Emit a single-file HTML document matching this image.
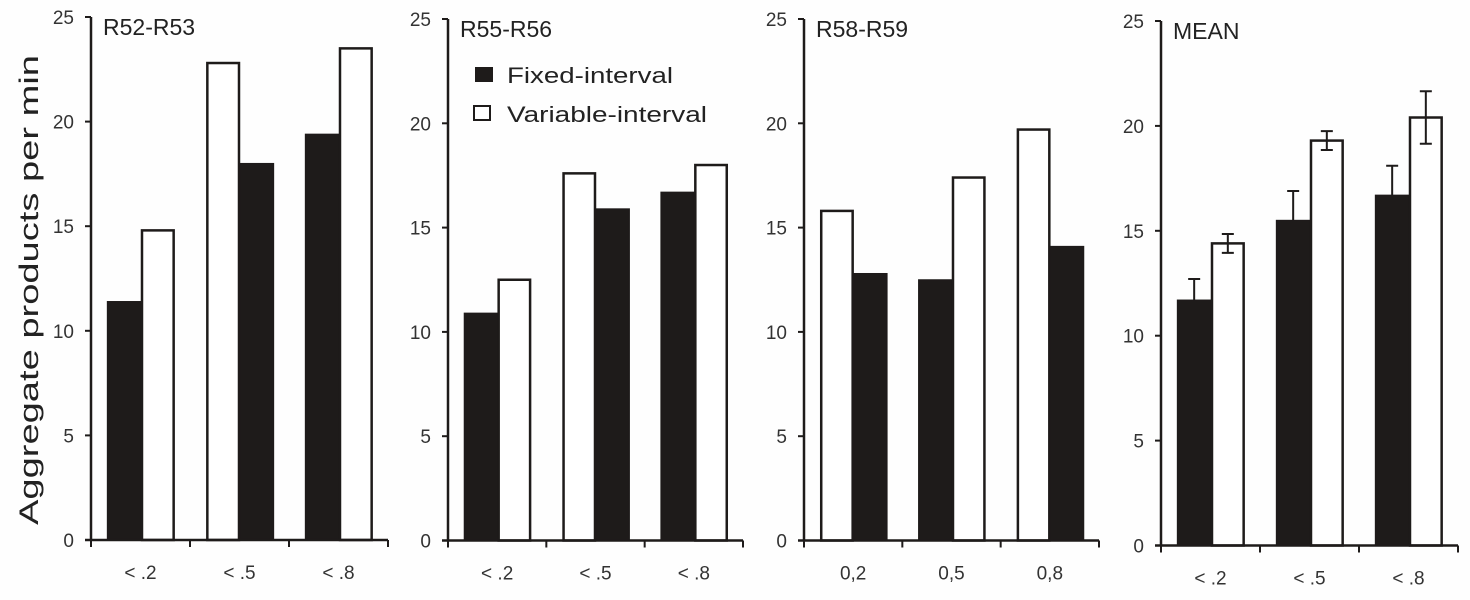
<!DOCTYPE html>
<html><head><meta charset="utf-8"><style>
html,body{margin:0;padding:0;background:#fefefe;}
svg{display:block;font-family:"Liberation Sans",sans-serif;}
</style></head><body>
<svg id="chart" width="1470" height="600" viewBox="0 0 1470 600" xmlns="http://www.w3.org/2000/svg">
<text transform="translate(38,290) rotate(-90)" text-anchor="middle" font-size="27" fill="#222" textLength="470" lengthAdjust="spacingAndGlyphs">Aggregate products per min</text>
<g>
<rect x="475" y="67" width="18" height="15" fill="#1e1b1a"/>
<text x="507" y="83" font-size="22" fill="#222" textLength="166" lengthAdjust="spacingAndGlyphs">Fixed-interval</text>
<rect x="474" y="106" width="16" height="14" fill="#fff" stroke="#1e1b1a" stroke-width="2"/>
<text x="507" y="122" font-size="22" fill="#222" textLength="200" lengthAdjust="spacingAndGlyphs">Variable-interval</text>
</g>
</svg>
<script>
const panelTitles = ["R52-R53","R55-R56","R58-R59","MEAN"];
const catLabels = [["< .2","< .5","< .8"],["< .2","< .5","< .8"],["0,2","0,5","0,8"],["< .2","< .5","< .8"]];
const fixedVals = [[11.4,18.0,19.4],[10.9,15.9,16.7],[12.8,12.5,14.1],[11.7,15.5,16.7]];
const variableVals = [[14.8,22.8,23.5],[12.5,17.6,18.0],[15.8,17.4,19.7],[14.4,19.3,20.4]];
// 1 = variable bar drawn first (left) in that category
const variableFirst = [[0,1,0],[0,1,0],[1,0,1],[0,0,0]];
const fixedErr = [1.0,1.4,1.4];
const variableErr = [0.45,0.45,1.25];
const yTicks = [0,5,10,15,20,25];

const svg = document.getElementById('chart');
const NS = 'http://www.w3.org/2000/svg';
const layouts = [
  {x0:91, x1:388, y0:540, yTop:17},
  {x0:448, x1:743, y0:540.5, yTop:19},
  {x0:804, x1:1099, y0:540.5, yTop:19},
  {x0:1161, x1:1458, y0:545.5, yTop:21}
];
function mk(tag, attrs){const e=document.createElementNS(NS,tag);for(const k in attrs)e.setAttribute(k,attrs[k]);svg.appendChild(e);return e;}

layouts.forEach((L,p)=>{
  const yS = v => L.y0 - v*(L.y0-L.yTop)/25;
  const cw = (L.x1-L.x0)/3;
  const bw = cw*0.34, off = cw*0.165;
  // bars
  for(let c=0;c<3;c++){
    const bx = L.x0 + c*cw + off;
    const order = variableFirst[p][c] ? ['v','f'] : ['f','v'];
    order.forEach((s,i)=>{
      const v = s==='f' ? fixedVals[p][c] : variableVals[p][c];
      const x = bx + i*bw;
      const r = mk('rect',{x:x+(s==='v'?1:0), y:yS(v), width:bw-(s==='v'?2:0), height:L.y0-yS(v),
        fill: s==='f'?'#1e1b1a':'#fff', stroke:'#1e1b1a', 'stroke-width': s==='v'?2.5:1});
      
      
      if(p===3){
        const cx = x+bw/2;
        const e = s==='f'?fixedErr[c]:variableErr[c];
        const lo = s==='f'? v : v-e;
        const eb = mk('path',{d:`M${cx},${yS(lo)}V${yS(v+e)}M${cx-6},${yS(v+e)}H${cx+6}`+(s==='v'?`M${cx-6},${yS(v-e)}H${cx+6}`:''), stroke:'#1e1b1a','stroke-width':2,fill:'none'});
        
        
      }
    });
  }
  // axes
  const ax = mk('path',{d:`M${L.x0},${L.yTop}V${L.y0}M${L.x0-6},${L.y0}H${L.x1}`, stroke:'#1e1b1a','stroke-width':2.5,fill:'none'});
  
  
  yTicks.forEach(t=>{
    const tk = mk('path',{d:`M${L.x0-6},${yS(t)}H${L.x0}`,stroke:'#1e1b1a','stroke-width':2});
    
    
    const tl = mk('text',{x:L.x0-17,y:yS(t)+7,'text-anchor':'end','font-size':19,fill:'#333'});
    tl.textContent = t;
    
    
  });
  for(let c=0;c<=3;c++){
    const x = L.x0 + c*cw;
    const tk = mk('path',{d:`M${x},${L.y0}V${L.y0+7}`,stroke:'#1e1b1a','stroke-width':2});
    
    
  }
  catLabels[p].forEach((lab,c)=>{
    const tl = mk('text',{x:L.x0+(c+0.5)*cw,y:L.y0+39,'text-anchor':'middle','font-size':19,fill:'#333'});
    tl.textContent = lab;
    
    
  });
  const tt = mk('text',{x:L.x0+12,y:L.yTop+18,'font-size':23,fill:'#222'});
  tt.textContent = panelTitles[p];
  
  
});
</script>
</body></html>
